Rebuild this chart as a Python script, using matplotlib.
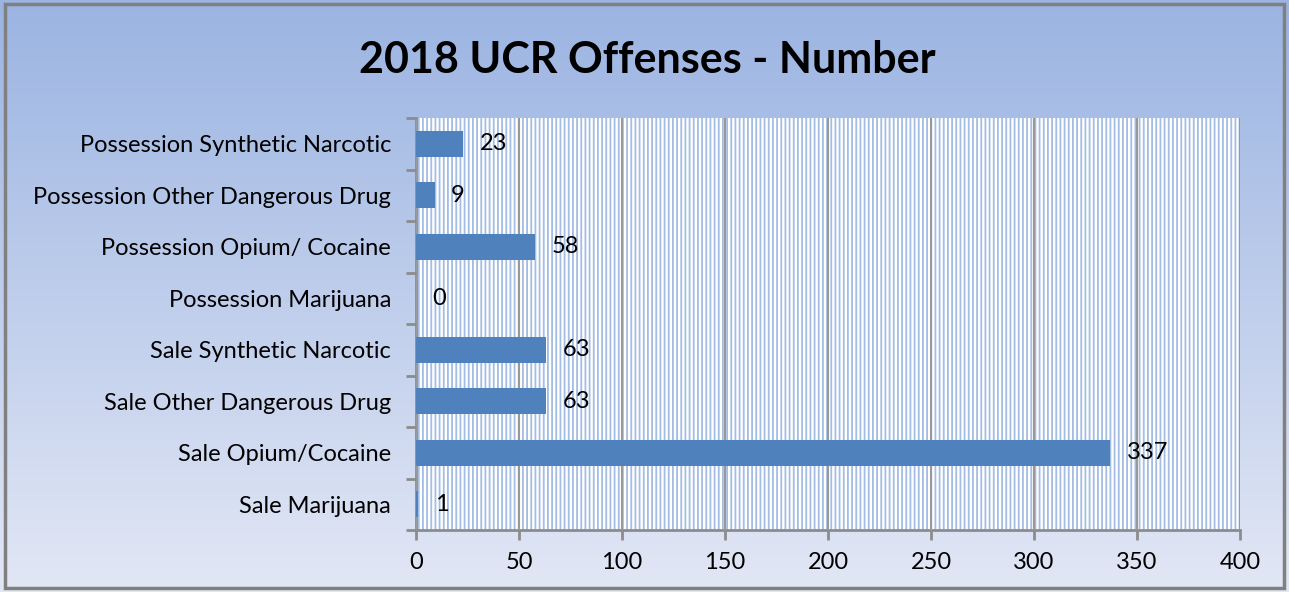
import matplotlib
matplotlib.use("Agg")
import matplotlib.pyplot as plt
import numpy as np
from matplotlib.patches import Rectangle

categories = ["Sale Marijuana", "Sale Opium/Cocaine", "Sale Other Dangerous Drug",
              "Sale Synthetic Narcotic", "Possession Marijuana", "Possession Opium/ Cocaine",
              "Possession Other Dangerous Drug", "Possession Synthetic Narcotic"]
values = [1, 337, 63, 63, 0, 58, 9, 23]
xticks = [0, 50, 100, 150, 200, 250, 300, 350, 400]
title = "2018 UCR Offenses - Number"

plt.rcParams['font.family'] = ['Lato', 'DejaVu Sans']
plt.rcParams['hatch.linewidth'] = 1.3
plt.rcParams['hatch.color'] = '#a3bde3'

W, H = 1289, 592
fig = plt.figure(figsize=(W/100, H/100), dpi=100)

# background gradient
bg = fig.add_axes([0, 0, 1, 1], zorder=-10)
grad = np.linspace(0, 1, 256).reshape(-1, 1)
top = np.array([0x9b, 0xb4, 0xe2]) / 255
bot = np.array([0xe2, 0xe7, 0xf5]) / 255
img = top[None, None, :] * (1 - grad[:, :, None]) + bot[None, None, :] * grad[:, :, None]
bg.imshow(img, aspect='auto', extent=[0, 1, 0, 1], origin='upper')
bg.add_patch(Rectangle((0.004, 0.006), 0.992, 0.988, fill=False, edgecolor='#808080', lw=2.5,
                       transform=bg.transAxes))
bg.set_xlim(0, 1); bg.set_ylim(0, 1)
bg.axis('off')

ax = fig.add_axes([416/W, 1-530/H, (1240-416)/W, (530-118)/H])
ax.set_facecolor('white')
ax.add_patch(Rectangle((0, 0), 1, 1, transform=ax.transAxes, facecolor='white',
                       edgecolor='#a3bde3', hatch='||||', lw=0, zorder=0))
y = np.arange(len(categories))
ax.barh(y, values, height=0.5, color='#4f81bd', zorder=3)
for yi, v in zip(y, values):
    ax.text(v + 8, yi, str(v), va='center', ha='left', fontsize=17, color='black', zorder=4)
ax.set_yticks(y)
ax.set_yticklabels(categories, fontsize=17)
ax.set_ylim(-0.5, len(categories) - 0.5)
ax.set_xlim(0, 400)
ax.set_xticks(xticks)
ax.set_xticklabels([str(t) for t in xticks], fontsize=17)
ax.grid(axis='x', color='#999999', lw=1.5, zorder=1)
ax.set_axisbelow(False)
for s in ['top', 'right']:
    ax.spines[s].set_visible(False)
for s in ['left', 'bottom']:
    ax.spines[s].set_color('#8c8c8c')
    ax.spines[s].set_linewidth(2)
ax.set_yticks(np.arange(-0.5, len(categories), 1), minor=True)
ax.tick_params(axis='y', which='major', length=0, pad=18)
ax.tick_params(axis='y', which='minor', length=7, color='#8c8c8c', width=2)
ax.tick_params(axis='x', length=7, color='#8c8c8c', width=2, pad=9)

fig.text(647/W, 1-60/H, title, ha='center', va='center', fontsize=31, fontweight='bold')

fig.savefig('out.png', dpi=100)
